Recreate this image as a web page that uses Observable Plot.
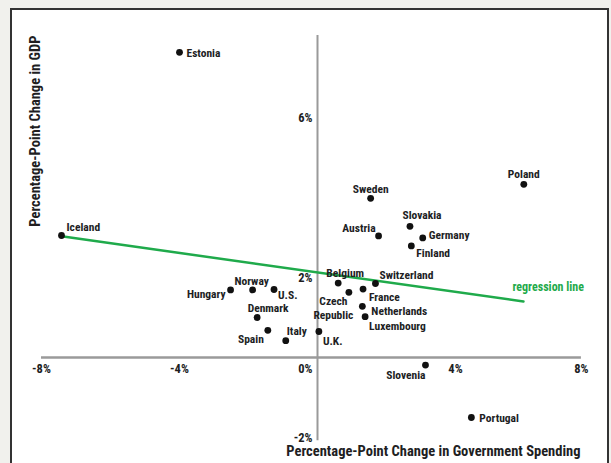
<!DOCTYPE html>
<html>
<head>
<meta charset="utf-8">
<script src="https://cdn.jsdelivr.net/npm/d3@7"></script>
<script src="https://cdn.jsdelivr.net/npm/@observablehq/plot@0.6"></script>
<style>
  html, body { margin: 0; padding: 0; background: #f1f1ed; width: 611px; height: 463px; overflow: hidden; }
  #frame { position: absolute; left: 10px; top: 8px; width: 595px; height: 500px; border: 2.5px solid #333; background: #fff; }
  #chart { position: absolute; left: 0; top: 0; }
</style>
</head>
<body>
<div id="frame"></div>
<div id="chart"></div>
<script>
// ---- data ----
const countries = ["Estonia","Iceland","Poland","Sweden","Slovakia","Austria","Germany","Finland","Belgium","Czech\nRepublic","France","Switzerland","Netherlands","Luxembourg","U.K.","Slovenia","Portugal","Hungary","Norway","U.S.","Denmark","Spain","Italy"];
const spendingChange = [-4.00,-7.42,5.98,1.54,2.68,1.77,3.05,2.72,0.60,0.91,1.32,1.68,1.30,1.38,0.04,3.13,4.46,-2.52,-1.88,-1.26,-1.75,-1.44,-0.92];
const gdpChange = [7.63,3.05,4.33,3.98,3.28,3.04,2.99,2.79,1.86,1.63,1.71,1.85,1.28,1.02,0.65,-0.19,-1.50,1.69,1.69,1.70,1.00,0.68,0.42];
const regressionX = [-7.42, 5.97];
const regressionY = [3.03, 1.40];
const xTicks = [-8, -4, 0, 4, 8];
const yTicks = [-2, 2, 6];
const xAxisExtent = [-8, 7.65];
const yAxisExtent = [-2.08, 8.05];
const xTitle = "Percentage-Point Change in Government Spending";
const yTitle = "Percentage-Point Change in GDP";
const regressionLabel = "regression line";

// ---- label placement (style only) ----
const labelLayout = [
  ["start", 7, 0], ["start", 5, -9], ["middle", 0, -11], ["middle", 0, -10], ["middle", 12, -12],
  ["end", -3, -9], ["start", 6, -4], ["start", 5, 6], ["middle", 7, -11], ["middle", -15.5, 15],
  ["start", 6, 7], ["start", 4, -9], ["start", 9, 4], ["start", 4, 9], ["start", 4, 9],
  ["end", 0, 9], ["start", 8, 0], ["end", -5, 3], ["middle", -1, -10], ["start", 4, 5],
  ["middle", 11, -10], ["end", -4, 8], ["start", 1, -10]
];

const FONT = "'Roboto Condensed', 'DejaVu Sans Condensed', sans-serif";
const INK = "#211e1f";
const GREEN = "#1faa4b";
const AXIS = "#9a9a9a";

const data = countries.map((c, i) => ({country: c, x: spendingChange[i], y: gdpChange[i]}));
const regression = regressionX.map((x, i) => ({x, y: regressionY[i]}));

const labelMarks = data.map((d, i) => Plot.text([d], {
  x: "x", y: "y", text: "country",
  textAnchor: labelLayout[i][0], dx: labelLayout[i][1], dy: labelLayout[i][2],
  fontSize: 11.5, fontWeight: "bold", fill: INK, lineHeight: 1.25
}));

const plot = Plot.plot({
  width: 611, height: 463,
  marginLeft: 41, marginRight: 18, marginTop: 35, marginBottom: 22,
  x: {domain: [-8, 8], axis: null},
  y: {domain: [-2.1, 8.05], axis: null},
  style: {background: "transparent", fontFamily: FONT, overflow: "visible"},
  marks: [
    Plot.ruleY([{y: 0, x1: xAxisExtent[0], x2: xAxisExtent[1]}], {y: "y", x1: "x1", x2: "x2", stroke: AXIS, strokeWidth: 2.5}),
    Plot.ruleX([{x: 0, y1: yAxisExtent[0], y2: yAxisExtent[1]}], {x: "x", y1: "y1", y2: "y2", stroke: AXIS, strokeWidth: 2}),
    Plot.text(xTicks.filter(t => t !== 0 && t !== 8), {x: d => d, y: () => 0, text: d => d + "%", dy: 11.5, fontSize: 12.5, fontWeight: "bold", fill: INK}),
    Plot.text(xTicks.filter(t => t === 0 || t === 8), {x: d => d, y: () => 0, text: d => d + "%", dy: 11.5, dx: -5, textAnchor: "end", fontSize: 12.5, fontWeight: "bold", fill: INK}),
    Plot.text(yTicks, {x: () => 0, y: d => d, text: d => d + "%", dx: -5, dy: 0, textAnchor: "end", fontSize: 12.5, fontWeight: "bold", fill: INK}),
    Plot.line(regression, {x: "x", y: "y", stroke: GREEN, strokeWidth: 2.5}),
    Plot.text([regression[1]], {x: "x", y: "y", text: () => regressionLabel, textAnchor: "start", dx: -11, dy: -14, fontSize: 12, fontWeight: "bold", fill: GREEN}),
    Plot.dot(data, {x: "x", y: "y", r: 3.4, fill: "#111"}),
    ...labelMarks,
    Plot.text([xTitle], {frameAnchor: "bottom-right", textAnchor: "end", dx: -13, dy: 14, fontSize: 14.5, fontWeight: "bold", fill: INK}),
    Plot.text([yTitle], {frameAnchor: "top-left", rotate: -90, textAnchor: "end", dx: -12, fontSize: 14.5, fontWeight: "bold", fill: INK})
  ]
});
document.getElementById("chart").appendChild(plot);
</script>
</body>
</html>
